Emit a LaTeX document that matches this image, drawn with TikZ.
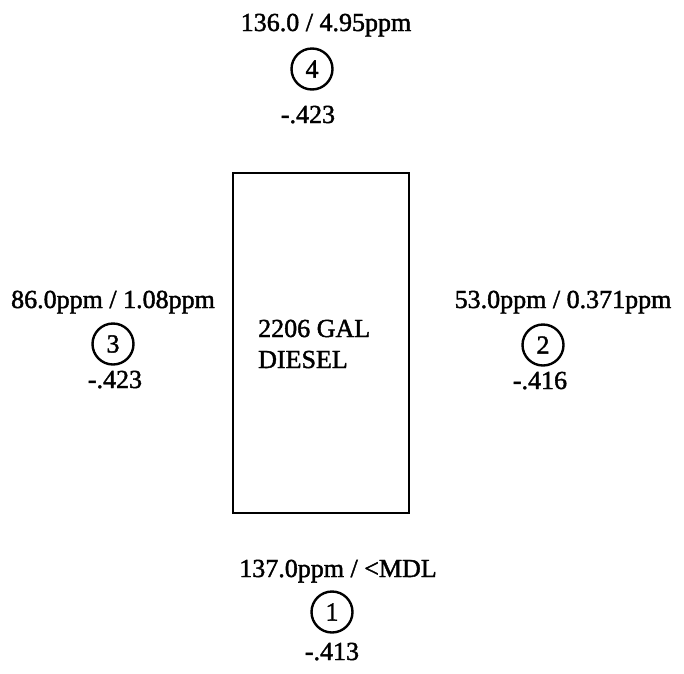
\documentclass[tikz,border=0pt]{standalone}
\usepackage{fontspec}
\setmainfont{Liberation Serif}[FakeBold=1.6]
\usetikzlibrary{positioning}
\newcommand{\labfont}{\fontsize{26}{30}\selectfont}
\tikzset{lab/.style={font=\labfont,inner sep=0pt,anchor=base},
well/.style={circle,draw,line width=2.4pt,minimum size=41pt,inner sep=0pt,font=\labfont},
tank/.style={draw,line width=2.8pt}}

\begin{document}
\begin{tikzpicture}[x=1pt,y=-1pt]
\useasboundingbox (0,0) rectangle (684,673);
\draw[tank] (233,173) rectangle (409,513);
\node[lab,anchor=base west] (tanktxt) at (258,337) {2206 GAL};
\node[lab,anchor=base west] (tanktxt2) at (258,368) {DIESEL};
% well 4, top
\node[lab] (conc4) at (326,31) {136.0 / 4.95ppm};
\node[well] (w4) at (312,69) {4};
\node[lab] (val4) at (308,123) {-.423};
% well 3, left
\node[lab] (conc3) at (113,308) {86.0ppm / 1.08ppm};
\node[well] (w3) at (113,344) {3};
\node[lab] (val3) at (115,388) {-.423};
% well 2, right
\node[lab] (conc2) at (563,308) {53.0ppm / 0.371ppm};
\node[well] (w2) at (543,345) {2};
\node[lab] (val2) at (540,389) {-.416};
% well 1, bottom
\node[lab] (conc1) at (338,577) {137.0ppm / <MDL};
\node[well] (w1) at (332,612) {1};
\node[lab] (val1) at (332,660) {-.413};
\end{tikzpicture}
\end{document}
